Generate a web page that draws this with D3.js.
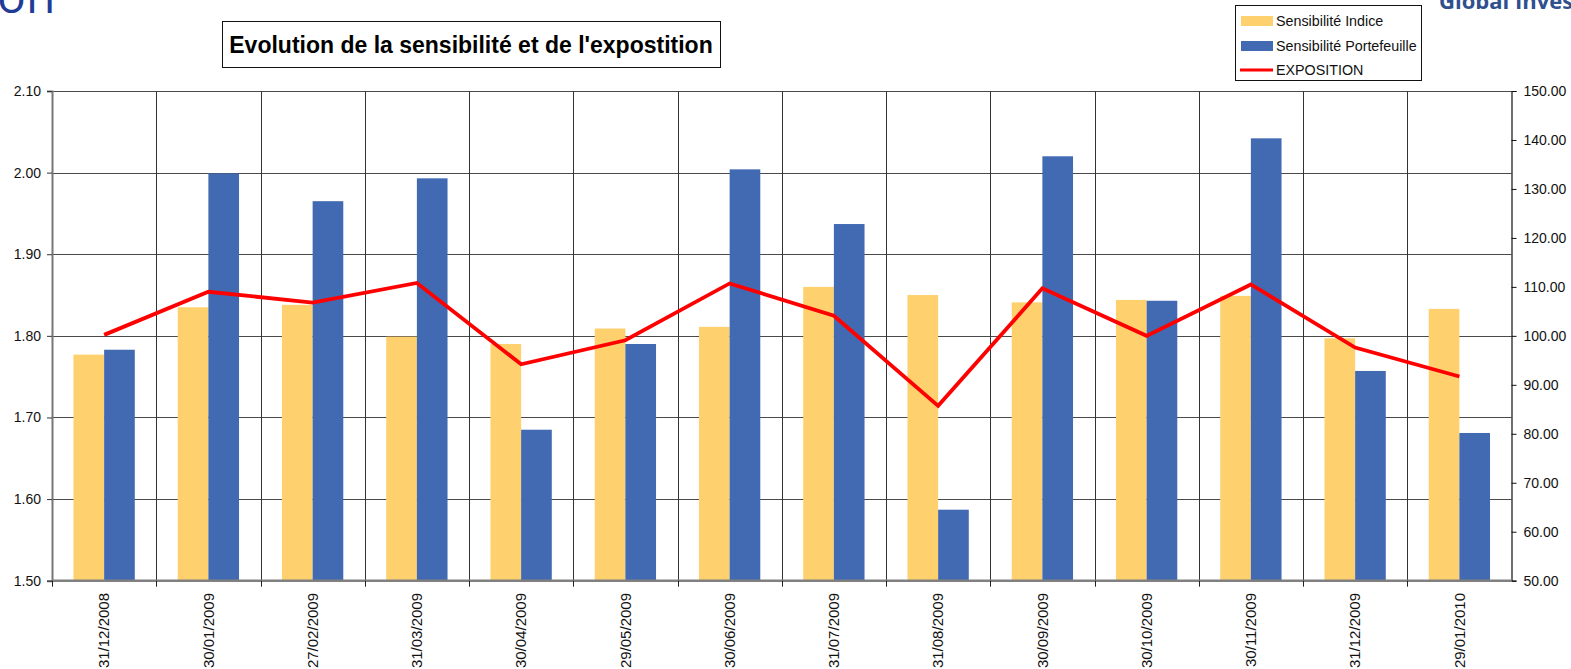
<!DOCTYPE html>
<html><head><meta charset="utf-8">
<script src="https://cdn.jsdelivr.net/npm/d3@7"></script>
<style>
html,body{margin:0;padding:0;background:#fff;}
svg{display:block;font-family:"Liberation Sans",Arial,sans-serif;}
</style></head>
<body>
<svg id="c" width="1571" height="669"></svg>
<script>
const categories = ["31/12/2008","30/01/2009","27/02/2009","31/03/2009","30/04/2009","29/05/2009","30/06/2009","31/07/2009","31/08/2009","30/09/2009","30/10/2009","30/11/2009","31/12/2009","29/01/2010"];
const sensibiliteIndice = [1.777,1.835,1.838,1.799,1.790,1.809,1.811,1.860,1.850,1.841,1.844,1.849,1.797,1.833];
const sensibilitePortefeuille = [1.783,1.999,1.965,1.993,1.685,1.790,2.004,1.937,1.587,2.020,1.843,2.042,1.757,1.681];
const exposition = [100.2,109.0,106.8,110.8,94.2,99.1,110.7,104.1,85.7,109.7,100.0,110.5,97.6,91.7];
const leftTicks = [1.50,1.60,1.70,1.80,1.90,2.00,2.10];
const rightTicks = [50,60,70,80,90,100,110,120,130,140,150];
const seriesNames = ["Sensibilité Indice","Sensibilité Portefeuille","EXPOSITION"];
const titleText = "Evolution de la sensibilité et de l'expostition";

const COL_Y = "#FED06E", COL_B = "#426AB3", COL_R = "#FF0000";
const svg = d3.select("#c");
const L = 52, R = 1511.5, T = 91, B = 580.7;

const x = d3.scaleBand().domain(categories).range([L, R]).paddingInner(0).paddingOuter(0);
const xs = d3.scaleBand().domain(["i","p"]).range([0, x.bandwidth()]).paddingInner(0).paddingOuter(0.7);
const yL = d3.scaleLinear().domain([1.5, 2.1]).range([B, T]);
const yR = d3.scaleLinear().domain([50, 150]).range([B, T]);

// header fragments (cut at the top edge, as in the reference)
svg.append("text").attr("x", -3).attr("y", 12.5).attr("font-size", 48).attr("fill", "#1F3C96").attr("font-family","Open Sans, sans-serif").text("on");
svg.append("text").attr("x", 1439).attr("y", 9).attr("font-size", 22).attr("font-weight", "bold").attr("fill", "#2F4F8F").attr("font-family","Open Sans, sans-serif").text("Global Inves");

// gridlines
const g = svg.append("g");
g.selectAll(".hg").data(leftTicks.slice(1)).join("line")
  .attr("x1", L).attr("x2", R).attr("y1", d => Math.round(yL(d)) + 0.5).attr("y2", d => Math.round(yL(d)) + 0.5)
  .attr("stroke", "#4a4a4a").attr("stroke-width", 1);
const bounds = categories.slice(1).map(c => x(c));
g.selectAll(".vg").data(bounds).join("line")
  .attr("x1", d => Math.round(d) + 0.5).attr("x2", d => Math.round(d) + 0.5).attr("y1", T).attr("y2", B)
  .attr("stroke", "#333").attr("stroke-width", 1);

// bars
const bars = svg.append("g");
bars.selectAll(".bi").data(categories).join("rect")
  .attr("x", c => x(c) + xs("i")).attr("width", xs.bandwidth())
  .attr("y", (c, i) => yL(sensibiliteIndice[i])).attr("height", (c, i) => B - yL(sensibiliteIndice[i]))
  .attr("fill", COL_Y);
bars.selectAll(".bp").data(categories).join("rect")
  .attr("x", c => x(c) + xs("p")).attr("width", xs.bandwidth())
  .attr("y", (c, i) => yL(sensibilitePortefeuille[i])).attr("height", (c, i) => B - yL(sensibilitePortefeuille[i]))
  .attr("fill", COL_B);

// line
const line = d3.line().x((d, i) => x(categories[i]) + x.bandwidth() / 2).y(d => yR(d));
svg.append("path").datum(exposition).attr("d", line).attr("fill", "none")
  .attr("stroke", COL_R).attr("stroke-width", 3.8).attr("stroke-linejoin", "miter");

// axes
const axL = d3.axisLeft(yL).tickValues(leftTicks).tickFormat(d3.format(".2f")).tickSize(5).tickPadding(6);
const gL = svg.append("g").attr("transform", `translate(${L},0)`).call(axL);
gL.select(".domain").attr("stroke", "#777").attr("stroke-width", 2);
gL.selectAll(".tick line").attr("stroke", "#333");
gL.selectAll("text").attr("font-size", 14).attr("fill", "#111").attr("font-family", "Liberation Sans, Arial, sans-serif");

const axR = d3.axisRight(yR).tickValues(rightTicks).tickFormat(d3.format(".2f")).tickSize(5).tickPadding(7);
const gR = svg.append("g").attr("transform", `translate(${R},0)`).call(axR);
gR.select(".domain").attr("stroke", "#111").attr("stroke-width", 1.2);
gR.selectAll(".tick line").attr("stroke", "#111");
gR.selectAll("text").attr("font-size", 14).attr("fill", "#111").attr("font-family", "Liberation Sans, Arial, sans-serif");

// bottom axis line and ticks
svg.append("line").attr("x1", L).attr("x2", R).attr("y1", B).attr("y2", B).attr("stroke", "#808080").attr("stroke-width", 2.5);
svg.selectAll(".bt").data(bounds.concat([L])).join("line")
  .attr("x1", d => Math.round(d) + 0.5).attr("x2", d => Math.round(d) + 0.5).attr("y1", B).attr("y2", B + 6)
  .attr("stroke", "#222");
svg.selectAll(".xl").data(categories).join("text")
  .attr("transform", c => `translate(${x(c) + x.bandwidth() / 2},593) rotate(-90)`)
  .attr("text-anchor", "end").attr("dy", "0.35em").attr("font-size", 15).attr("fill", "#111")
  .text(c => c);

// title box
svg.append("rect").attr("x", 222.5).attr("y", 21.5).attr("width", 498).attr("height", 46)
  .attr("fill", "#fff").attr("stroke", "#111").attr("stroke-width", 1);
svg.append("text").attr("x", 471).attr("y", 53).attr("text-anchor", "middle")
  .attr("font-size", 23).attr("font-weight", "bold").attr("fill", "#000").text(titleText);

// legend
const lg = svg.append("g");
lg.append("rect").attr("x", 1235.5).attr("y", 5.5).attr("width", 186).attr("height", 75)
  .attr("fill", "#fff").attr("stroke", "#111");
const rowsY = [21, 46, 70];
lg.append("rect").attr("x", 1241).attr("y", rowsY[0] - 5).attr("width", 32).attr("height", 10).attr("fill", COL_Y);
lg.append("rect").attr("x", 1241).attr("y", rowsY[1] - 5).attr("width", 32).attr("height", 10).attr("fill", COL_B);
lg.append("line").attr("x1", 1240).attr("x2", 1273).attr("y1", rowsY[2]).attr("y2", rowsY[2]).attr("stroke", COL_R).attr("stroke-width", 3);
lg.selectAll(".lt").data(seriesNames).join("text")
  .attr("x", 1276).attr("y", (d, i) => rowsY[i]).attr("dy", "0.35em")
  .attr("font-size", 14.3).attr("fill", "#111").text(d => d);
</script>
</body></html>
